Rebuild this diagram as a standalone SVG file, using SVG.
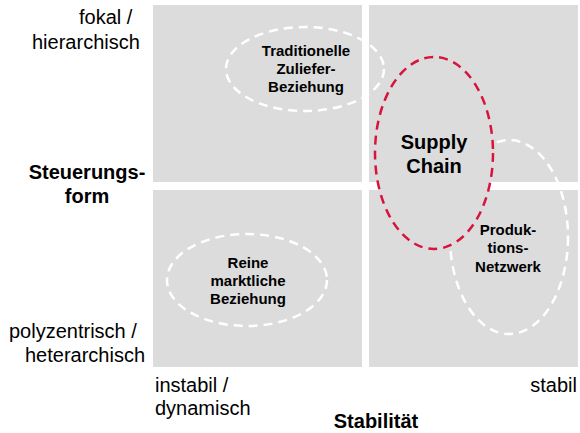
<svg xmlns="http://www.w3.org/2000/svg" width="580" height="433" viewBox="0 0 580 433">
<style>
.q{fill:#dcdcdc}
.wd{fill:none;stroke:#ffffff;stroke-width:2.5;stroke-dasharray:9 6}
.rd{fill:#dcdcdc;stroke:#d7143c;stroke-width:2.5;stroke-dasharray:9 6}
text{font-family:"Liberation Sans",Arial,sans-serif;fill:#000}
.n{font-size:15px;font-weight:bold;text-anchor:middle}
.b{font-size:20px;font-weight:bold;text-anchor:middle}
.r{font-size:20px}
</style>
<rect width="580" height="433" fill="#ffffff"/>
<g id="quadrants">
<rect class="q" x="153" y="5" width="209" height="177"/>
<rect class="q" x="369" y="5" width="209" height="177"/>
<rect class="q" x="153" y="190" width="209" height="177"/>
<rect class="q" x="369" y="190" width="209" height="177"/>
</g>
<g id="connectors"/>
<g id="traditionelle">
<ellipse class="wd" cx="305" cy="69" rx="79" ry="42"/>
<text class="n" x="306" y="56">Traditionelle</text>
<text class="n" x="306" y="74">Zuliefer-</text>
<text class="n" x="306" y="92">Beziehung</text>
</g>
<g id="reine">
<ellipse class="wd" cx="247" cy="280" rx="80" ry="46"/>
<text class="n" x="248" y="268">Reine</text>
<text class="n" x="248" y="286">marktliche</text>
<text class="n" x="248" y="304">Beziehung</text>
</g>
<g id="produktionsnetzwerk">
<ellipse class="wd" cx="509" cy="237" rx="59" ry="97"/>
<text class="n" x="508" y="235">Produk-</text>
<text class="n" x="508" y="253">tions-</text>
<text class="n" x="508" y="272">Netzwerk</text>
</g>
<g id="supplychain">
<ellipse class="rd" cx="434" cy="153" rx="59" ry="96"/>
<text class="b" x="434" y="149">Supply</text>
<text class="b" x="434" y="173">Chain</text>
</g>
<g id="yaxis">
<text class="r" x="79" y="24">fokal /</text>
<text class="r" x="32" y="49">hierarchisch</text>
<text class="b" x="87" y="179">Steuerungs-</text>
<text class="b" x="87" y="203">form</text>
<text class="r" x="9" y="338">polyzentrisch /</text>
<text class="r" x="25" y="362">heterarchisch</text>
</g>
<g id="xaxis">
<text class="r" x="155" y="392">instabil /</text>
<text class="r" x="155" y="415">dynamisch</text>
<text class="r" x="577" y="392" text-anchor="end">stabil</text>
<text class="b" x="376" y="428">Stabilität</text>
</g>
</svg>
